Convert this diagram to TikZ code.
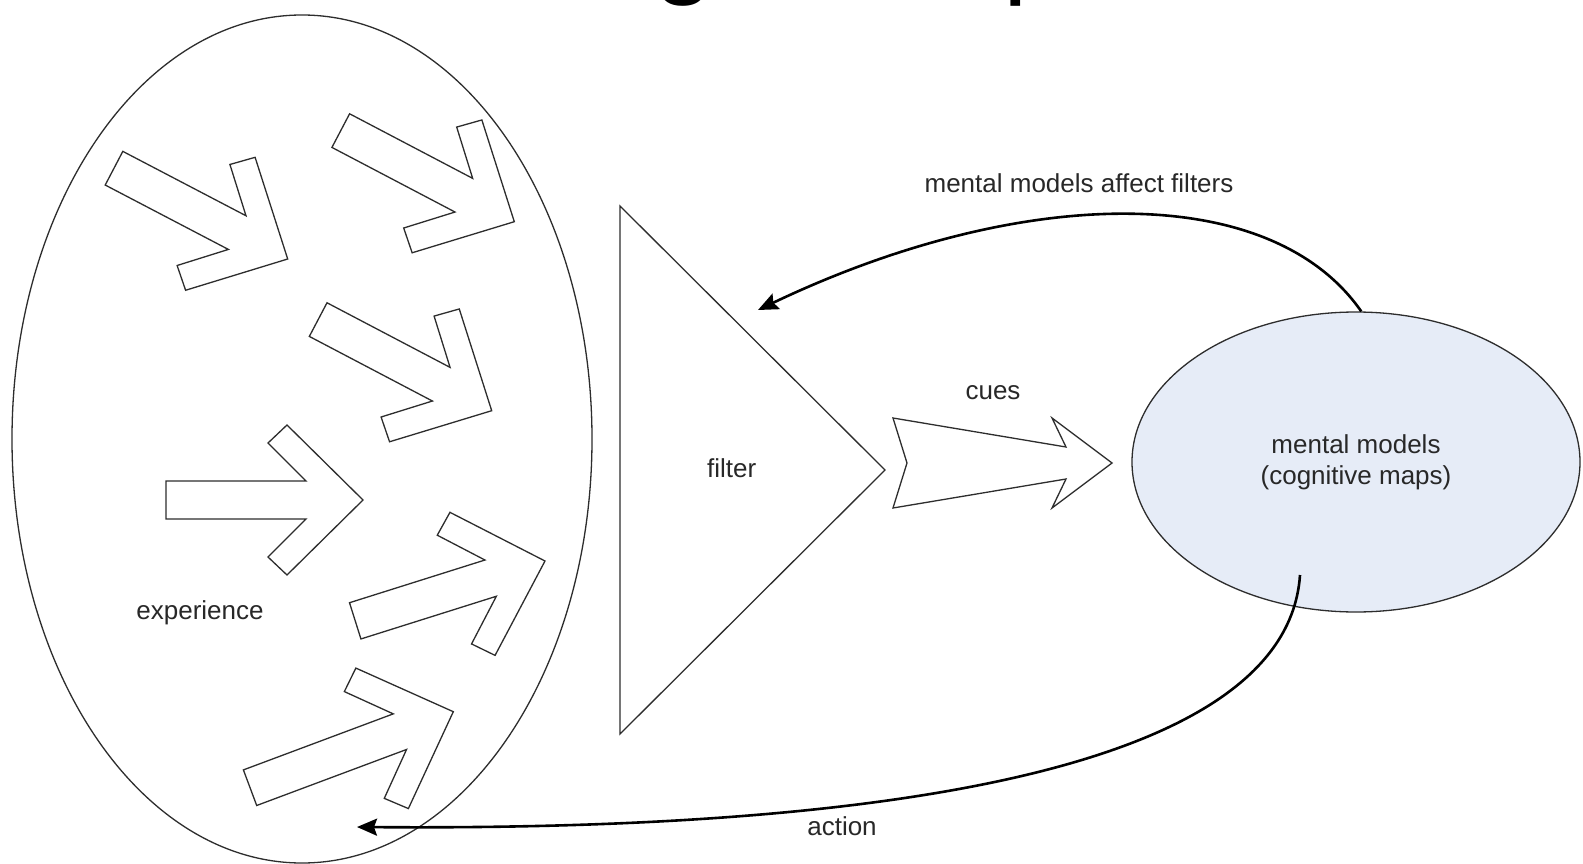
\documentclass[tikz,border=0pt]{standalone}
\usepackage{fontspec}
\setmainfont{Liberation Sans}
\usetikzlibrary{shapes.geometric,arrows.meta}
\definecolor{mmblue}{RGB}{230,236,247}
\definecolor{outl}{RGB}{45,45,45}
\definecolor{txt}{RGB}{40,40,40}
\tikzset{
  shapeline/.style={draw=outl, line width=1.3pt, line join=miter},
  lbl/.style={text=txt, inner sep=0pt, font=\fontsize{26}{31}\selectfont},
  conn/.style={draw=black, line width=2.6pt, -{Stealth[length=20pt,width=17pt,inset=3pt]}},
  titlelet/.style={inner sep=0pt, anchor=base, font=\fontsize{110}{115}\selectfont},
  pics/bigarr/.style={code={
    \draw[shapeline] (0,0) -- (-76,75) -- (-95,57) -- (-57,19) -- (-#1,19)
      -- (-#1,-19) -- (-57,-19) -- (-95,-57) -- (-76,-75) -- cycle;}}
}
\begin{document}
\begin{tikzpicture}[x=1pt,y=-1pt]
\useasboundingbox (0,0) rectangle (1583,864);
\fill[white] (0,0) rectangle (1583,864);
\begin{scope}
\clip (0,0) rectangle (1583,864);
% cut-off title letters (only their descenders show)
\node[titlelet] (tg) at (684.3,-16.3) {g};
\node[titlelet] (tp) at (1034.3,-16.3) {p};
% experience ellipse
\node[ellipse, shapeline, minimum width=580pt, minimum height=848pt, inner sep=0pt] (exp) at (302,439) {};
\end{scope}
\node[lbl] (explbl) at (200,613) {experience};
% experience arrows
\pic[rotate=-27.6] at (287.7,259) {bigarr=196};
\pic[rotate=-27.7] at (514.3,221.7) {bigarr=196};
\pic[rotate=-27.7] at (491.7,410.7) {bigarr=196};
\pic at (363,500) {bigarr=197};
\pic[rotate=17.5] at (545,561) {bigarr=199};
\pic[rotate=20.5] at (453.3,711.7) {bigarr=217};
% filter triangle
\coordinate (ftop) at (620,206);
\coordinate (ftip) at (885,470);
\coordinate (fbot) at (620,734);
\draw[shapeline] (ftop) -- (ftip) -- (fbot) -- cycle;
\node[lbl] (filtlbl) at (731.7,468) {filter};
% cues arrow
\draw[shapeline] (893,418) -- (1066,447) -- (1052,418) -- (1112,463) -- (1052,508)
  -- (1066,479) -- (893,508) -- (907,463) -- cycle;
\node[lbl] (cueslbl) at (993,393) {cues};
% mental models
\node[ellipse, shapeline, fill=mmblue, minimum width=448pt, minimum height=300pt,
  inner sep=0pt, align=center, text=txt, font=\fontsize{26}{31}\selectfont] (mm) at (1356,462)
  {mental models\\(cognitive maps)};
% connectors
\coordinate (filtin) at (758,310);
\coordinate (mmin) at (1300,575);
\coordinate (expin) at (357,827);
\draw[conn] (mm.88) .. controls (1270,180) and (1020,185) .. (filtin);
\node[lbl] (afflbl) at (1079,183) {mental models affect filters};
\draw[conn] (mmin) .. controls (1285,800) and (750,830) .. (expin);
\node[lbl] (actlbl) at (842,826) {action};
\end{tikzpicture}
\end{document}
